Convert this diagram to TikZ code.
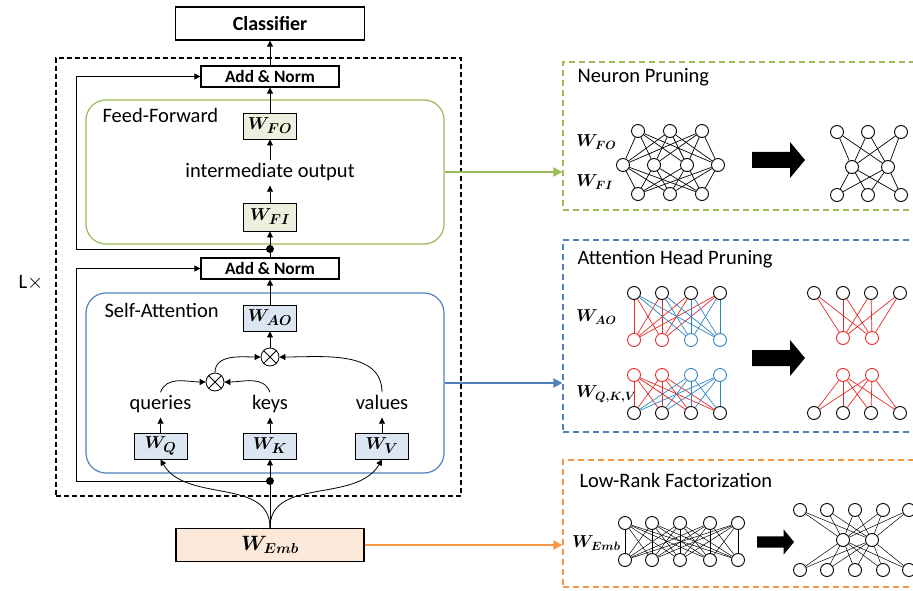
\documentclass[tikz,border=0pt]{standalone}
\usepackage{fontspec}
\setmainfont{Carlito}
\usepackage{bm}
\usetikzlibrary{arrows.meta, positioning, calc}

\definecolor{ffgreen}{HTML}{9BBB59}
\definecolor{sablue}{HTML}{4F81BD}
\definecolor{emborange}{HTML}{F79646}
\definecolor{fffill}{HTML}{EBF1DE}
\definecolor{safill}{HTML}{DCE6F2}
\definecolor{embfill}{HTML}{FDE9D9}
\definecolor{headred}{HTML}{E52A2A}
\definecolor{headblue}{HTML}{2E86C1}

\newcommand{\wmat}[1]{$\bm{W}_{\bm{#1}}$}

\tikzset{
  pics/blockarrow/.style={code={%
    \fill[black] (0,-8) -- (38,-8) -- (38,-18) -- (53,0) -- (38,18) -- (38,8) -- (0,8) -- cycle;}},
}

\begin{document}
\begin{tikzpicture}[x=1pt, y=-1pt,
    font=\fontsize{20.5}{24}\selectfont,
    arr/.style={-{Triangle[length=6pt, width=6pt]}, line width=0.8pt},
    feed/.style={-{Triangle[length=9pt, width=9pt]}, line width=2pt},
    normbox/.style={draw, line width=1.2pt, minimum width=138pt, minimum height=21pt, inner sep=0pt, font=\bfseries\fontsize{17.3}{20}\selectfont},
    wbox/.style={draw, line width=0.9pt, minimum width=53pt, minimum height=26pt, inner sep=0pt, font=\fontsize{19}{22}\selectfont},
    wlbl/.style={anchor=west, inner sep=0pt, font=\fontsize{17}{20}\selectfont},
    lbl/.style={text height=13pt, text depth=4pt, inner xsep=2pt, inner ysep=4pt},
    block/.style={draw, rounded corners=20pt, line width=1.2pt, minimum width=358pt},
    panel/.style={draw, dash pattern=on 6pt off 4pt, line width=1.3pt, minimum width=362pt},
    joint/.style={circle, fill=black, minimum size=8pt, inner sep=0pt},
    otimes/.style={circle, draw, fill=white, minimum size=18pt, inner sep=0pt, line width=0.8pt,
      path picture={\draw[line width=0.8pt] (path picture bounding box.north west) -- (path picture bounding box.south east)
        (path picture bounding box.north east) -- (path picture bounding box.south west);}},
    neuron/.style={circle, draw, line width=0.9pt, minimum size=13pt, inner sep=0pt},
    link/.style={line width=0.7pt},
  ]
  \useasboundingbox (0,0) rectangle (913,591);
  \clip (0,0) rectangle (913,591);

  % Encoder layer, stacked L times
  \node[draw, dash pattern=on 5pt off 3pt, line width=1.1pt, minimum width=405pt, minimum height=438pt] (layer) at (258.5,277) {};
  \node (layers) at (31,283) {L$\times$};

  \node[draw, line width=1.3pt, minimum width=189pt, minimum height=33pt, font=\bfseries\fontsize{20}{22}\selectfont] (cls) at (270,23.5) {Classifier};
  \node[normbox] (an2) at (270,76.5) {Add \& Norm};

  % Feed-forward block
  \node[block, draw=ffgreen, minimum height=144pt] (ff) at (265,172) {};
  \node[anchor=west] (ff-title) at (99,115) {Feed-Forward};
  \node[wbox, fill=fffill] (wfo) at (270,126) {\wmat{FO}};
  \node[lbl] (inter) at (270,173) {intermediate output};
  \node[wbox, fill=fffill, minimum height=28pt] (wfi) at (270,217) {\wmat{FI}};
  \node[joint] (dot1) at (270,249) {};
  \node[normbox] (an1) at (270,268.5) {Add \& Norm};

  % Self-attention block
  \node[block, draw=sablue, minimum height=180pt] (sa) at (265,383) {};
  \node[anchor=west] (sa-title) at (101,310) {Self-Attention};
  \node[wbox, fill=safill] (wao) at (270,318) {\wmat{AO}};
  \node[otimes] (mul2) at (270,357) {};
  \node[otimes] (mul1) at (215,382) {};
  \node[lbl] (queries) at (160.5,405) {queries};
  \node[lbl] (keys) at (270,405) {keys};
  \node[lbl] (values) at (382,405) {values};
  \node[wbox, fill=safill] (wq) at (160.5,446) {\wmat{Q}};
  \node[wbox, fill=safill] (wk) at (270,446) {\wmat{K}};
  \node[wbox, fill=safill] (wv) at (382,446) {\wmat{V}};
  \node[joint] (dot2) at (270,481) {};

  \node[draw, line width=1.3pt, fill=embfill, minimum width=188pt, minimum height=33pt, font=\fontsize{20}{22}\selectfont] (emb) at (270,545) {\wmat{Emb}};

  % Data flow
  \draw[arr] (an2) -- (cls);
  \draw[arr] (wfo) -- (an2);
  \draw[arr] (inter) -- (wfo);
  \draw[arr] (wfi) -- (inter);
  \draw[arr] (an1) -- (wfi);
  \draw[arr] (wao) -- (an1);
  \draw[arr] (mul2) -- (wao);
  \draw[arr] (queries.north) to[out=70, in=180] (mul1);
  \draw[arr] (keys.north) to[out=110, in=0] (mul1);
  \draw[arr] (mul1) to[out=90, in=180] (mul2);
  \draw[arr] (values.north) to[out=90, in=0] (mul2);
  \draw[arr] (wq) -- (queries);
  \draw[arr] (wk) -- (keys);
  \draw[arr] (wv) -- (values);
  \draw[arr] (emb) -- (wk);
  \draw[arr] (emb.north) to[out=90, in=-60] (wq.south);
  \draw[arr] (emb.north) to[out=90, in=-120] (wv.south);

  % Residual connections
  \coordinate (rail) at (76,0);
  \draw[arr] (dot2.center) -- (dot2 -| rail) |- (an1);
  \draw[arr] (dot1.center) -- (dot1 -| rail) |- (an2);

  % Compression panels
  \node[panel, draw=ffgreen, minimum height=148pt] (np) at (744,136) {};
  \node[panel, draw=sablue, minimum height=192pt] (ah) at (744,336) {};
  \node[panel, draw=emborange, minimum height=127pt] (lr) at (744,523.5) {};
  \node[anchor=west] (np-title) at (574,77) {Neuron Pruning};
  \node[anchor=west] (ah-title) at (574,259) {Attention Head Pruning};
  \node[anchor=west] (lr-title) at (576,480) {Low-Rank Factorization};

  \draw[feed, ffgreen] (ff.east) -- (ff.east -| np.west);
  \draw[feed, sablue] (sa.east) -- (sa.east -| ah.west);
  \draw[feed, emborange] (emb.east) -- (emb.east -| lr.west);

  % Neuron pruning
  \node[wlbl] (np-wfo) at (576,142) {\wmat{FO}};
  \node[wlbl] (np-wfi) at (576,182) {\wmat{FI}};
  \foreach \x [count=\i] in {638,670,702} {
    \node[neuron] (nb-t\i) at (\x,131) {};
    \node[neuron] (nb-b\i) at (\x,194) {};
  }
  \foreach \x [count=\i] in {623,654,687,718}
    \node[neuron] (nb-m\i) at (\x,165) {};
  \foreach \i in {1,2,3}
    \foreach \j in {1,...,4}
      \draw[link] (nb-t\i) -- (nb-m\j) (nb-m\j) -- (nb-b\i);
  \pic at (752,160) {blockarrow};
  \foreach \x [count=\i] in {837,868,901} {
    \node[neuron] (na-t\i) at (\x,132) {};
    \node[neuron] (na-b\i) at (\x,195) {};
  }
  \foreach \x [count=\i] in {852,888}
    \node[neuron] (na-m\i) at (\x,167) {};
  \foreach \i in {1,2,3}
    \foreach \j in {1,2}
      \draw[link] (na-t\i) -- (na-m\j) (na-m\j) -- (na-b\i);

  % Attention head pruning
  \node[wlbl] (ah-wao) at (576,317) {\wmat{AO}};
  \node[wlbl] (ah-wqkv) at (576,394) {\wmat{Q,K,V}};
  \foreach \x/\c [count=\i] in {634/headred,662/headred,691/headblue,720/headblue} {
    \node[neuron] (ao-t\i) at (\x,293) {};
    \node[neuron, draw=\c] (ao-b\i) at (\x,340) {};
    \node[neuron, draw=\c] (qkv-t\i) at (\x,375) {};
    \node[neuron] (qkv-b\i) at (\x,413) {};
  }
  \foreach \c [count=\i] in {headred,headred,headblue,headblue}
    \foreach \j in {1,...,4}
      \draw[link, \c] (ao-b\i) -- (ao-t\j) (qkv-t\i) -- (qkv-b\j);
  \pic at (752,358) {blockarrow};
  \foreach \x [count=\i] in {814,843,871,900} {
    \node[neuron] (aop-t\i) at (\x,293) {};
    \node[neuron] (qkvp-b\i) at (\x,413) {};
  }
  \foreach \x [count=\i] in {843,872} {
    \node[neuron, draw=headred] (aop-b\i) at (\x,338) {};
    \node[neuron, draw=headred] (qkvp-t\i) at (\x,375) {};
  }
  \foreach \i in {1,2}
    \foreach \j in {1,...,4}
      \draw[link, headred] (aop-b\i) -- (aop-t\j) (qkvp-t\i) -- (qkvp-b\j);

  % Low-rank factorization
  \node[wlbl] (lr-wemb) at (572,543) {\wmat{Emb}};
  \foreach \x [count=\i] in {625,652,680,710,738} {
    \node[neuron] (lb-t\i) at (\x,523) {};
    \node[neuron] (lb-b\i) at (\x,560) {};
  }
  \foreach \i in {1,...,5}
    \foreach \j in {1,...,5}
      \draw[link, line width=0.5pt] (lb-t\i) -- (lb-b\j);
  \pic[scale=0.7] at (757,542) {blockarrow};
  \foreach \x [count=\i] in {800,827,855,883,909} {
    \node[neuron] (la-t\i) at (\x,510) {};
    \node[neuron] (la-b\i) at (\x,570) {};
  }
  \foreach \x [count=\i] in {843,872}
    \node[neuron] (la-m\i) at (\x,540) {};
  \foreach \i in {1,...,5}
    \foreach \j in {1,2}
      \draw[link, line width=0.5pt] (la-t\i) -- (la-m\j) (la-m\j) -- (la-b\i);
\end{tikzpicture}
\end{document}
